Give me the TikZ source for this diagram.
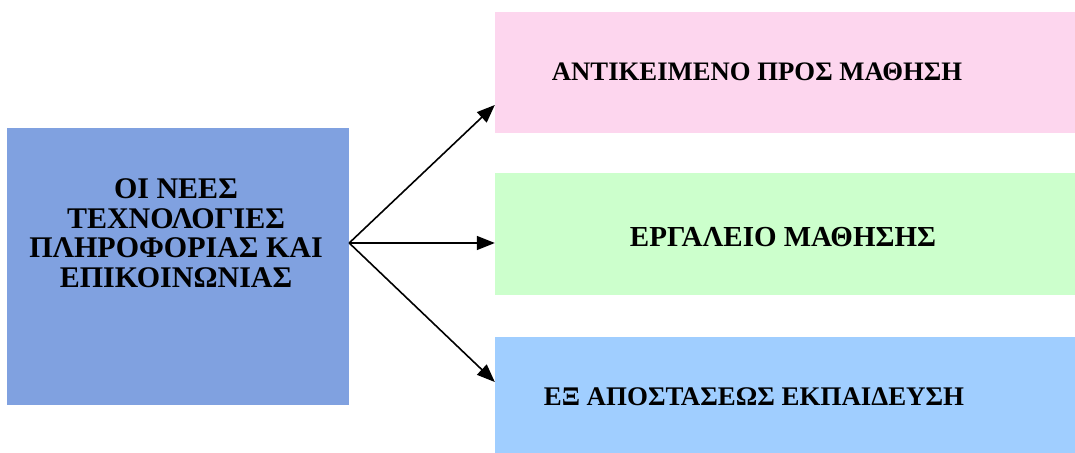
\documentclass[tikz,border=0pt]{standalone}
\usepackage{fontspec}
\setmainfont{Liberation Serif}
\usetikzlibrary{arrows.meta, calc, positioning}
\definecolor{srcblue}{RGB}{128,161,224}
\definecolor{boxpink}{RGB}{253,214,238}
\definecolor{boxgreen}{RGB}{204,255,204}
\definecolor{boxblue}{RGB}{160,206,255}
\tikzset{
    box/.style={rectangle, draw=none, inner sep=0pt},
    lbl/.style={font=\bfseries\fontsize{#1}{29.5}\selectfont, align=center, inner sep=0pt},
    lbl/.default=27,
    arr/.style={line width=1.6pt, -{Triangle[length=18pt,width=14pt]}}
}

\begin{document}
\begin{tikzpicture}[x=1pt, y=1pt]
    \useasboundingbox (0,0) rectangle (1075,452);

    % Source box
    \node[box, fill=srcblue, minimum width=342pt, minimum height=277pt] (src) at (178,185.5) {};
    \node[lbl=30] (srctext) at (176,219) {ΟΙ ΝΕΕΣ\\ΤΕΧΝΟΛΟΓΙΕΣ\\ΠΛΗΡΟΦΟΡΙΑΣ ΚΑΙ\\ΕΠΙΚΟΙΝΩΝΙΑΣ};

    % Target boxes
    \node[box, fill=boxpink, minimum width=580pt, minimum height=121pt] (obj) at (785,379.5) {};
    \node[box, fill=boxgreen, minimum width=580pt, minimum height=122pt] (tool) at (785,218) {};
    \node[box, fill=boxblue, minimum width=580pt, minimum height=120pt] (dist) at (785,55) {};

    % Labels
    \node[lbl=26.7] (objtext) at (757,380) {ΑΝΤΙΚΕΙΜΕΝΟ ΠΡΟΣ ΜΑΘΗΣΗ};
    \node[lbl=29] (tooltext) at (783,215) {ΕΡΓΑΛΕΙΟ ΜΑΘΗΣΗΣ};
    \node[lbl=26.9] (disttext) at (754,55) {ΕΞ ΑΠΟΣΤΑΣΕΩΣ ΕΚΠΑΙΔΕΥΣΗ};

    % Arrows
    \coordinate (fork) at ($(src.east |- 0,209)$);
    \coordinate (objin) at ($(obj.west |- 0,347)$);
    \coordinate (toolin) at ($(tool.west |- 0,209)$);
    \coordinate (distin) at ($(dist.west |- 0,70)$);
    \draw[arr] (fork) -- (objin);
    \draw[arr] (fork) -- (toolin);
    \draw[arr] (fork) -- (distin);
\end{tikzpicture}
\end{document}
